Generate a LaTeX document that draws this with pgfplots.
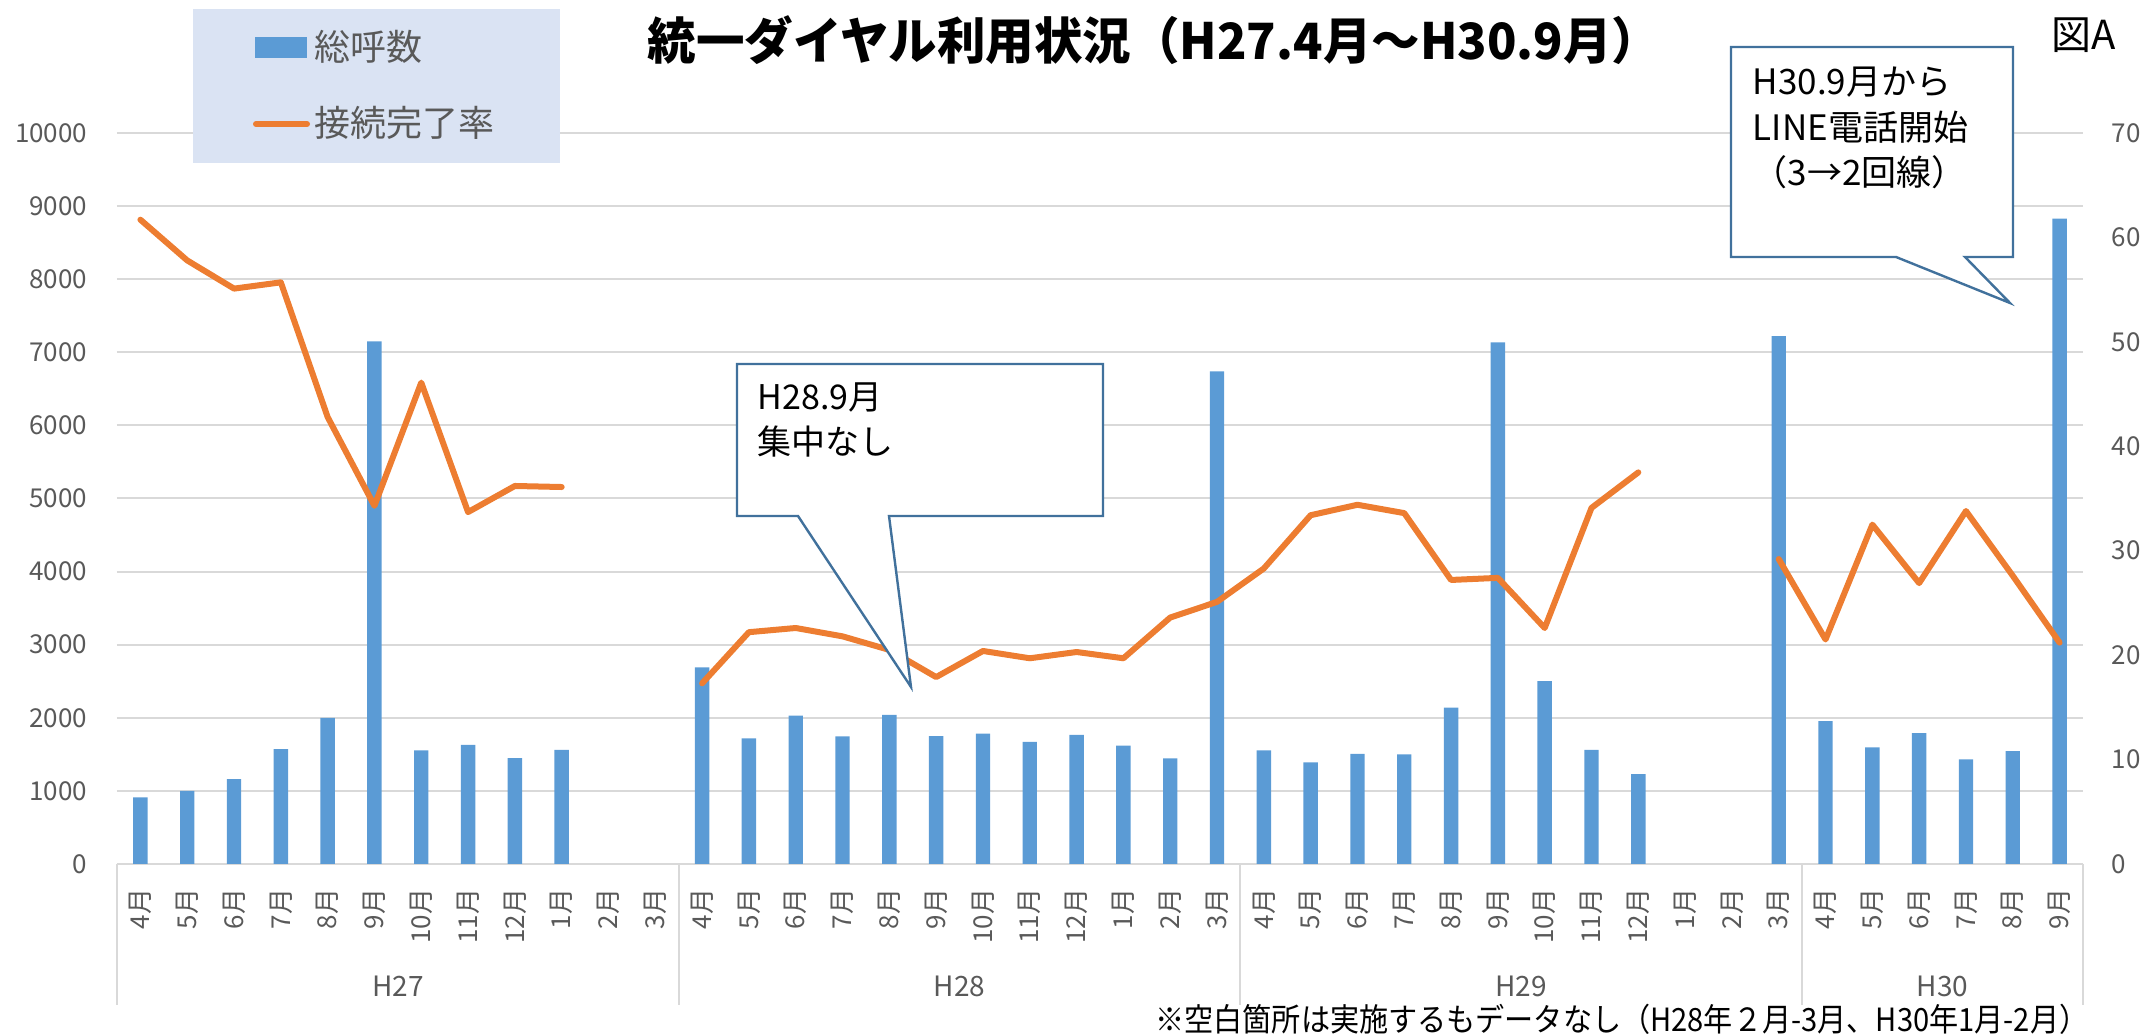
\documentclass[border=0pt]{standalone}
\usepackage{fontspec}
\setmainfont{Noto Sans CJK JP}
\usepackage{pgfplots}
\usepackage{pgfplotstable}
\pgfplotsset{compat=1.18}
\definecolor{barblue}{HTML}{5B9BD5}
\definecolor{lineorange}{HTML}{ED7D31}
\definecolor{gridgray}{HTML}{D9D9D9}
\definecolor{labgray}{HTML}{595959}
\definecolor{legfill}{HTML}{DAE3F3}
\definecolor{callblue}{HTML}{41719C}

\pgfplotstableread{
x y
1 910
2 1000
3 1160
4 1570
5 2000
6 7150
7 1555
8 1630
9 1450
10 1560
13 2690
14 1720
15 2030
16 1745
17 2040
18 1750
19 1785
20 1670
21 1765
22 1620
23 1445
24 6740
25 1555
26 1390
27 1505
28 1500
29 2140
30 7135
31 2500
32 1560
33 1230
36 7220
37 1955
38 1595
39 1790
40 1430
41 1545
42 8830
}\bars

\pgfplotstableread{
x y
1 61.7
2 57.8
3 55.1
4 55.7
5 42.8
6 34.3
7 46.1
8 33.7
9 36.2
10 36.1
11 nan
13 17.3
14 22.2
15 22.6
16 21.8
17 20.5
18 17.9
19 20.4
20 19.7
21 20.3
22 19.7
23 23.6
24 25.1
25 28.3
26 33.4
27 34.4
28 33.6
29 27.2
30 27.4
31 22.6
32 34.1
33 37.5
34 nan
36 29.2
37 21.5
38 32.5
39 26.9
40 33.8
41 27.6
42 21.2
}\rate

\begin{document}
\begin{tikzpicture}
\begin{axis}[
  at={(29.25pt,-216pt)}, anchor=south west,
  width=491.5pt, height=182.75pt, scale only axis,
  xmin=0.5, xmax=42.5, ymin=0, ymax=10000,
  enlargelimits=false,
  ytick={0,1000,...,10000},
  ymajorgrids, grid style={gridgray, line width=0.5pt},
  axis line style={draw=none},
  major tick length=0pt,
  xtick={1,...,42},
  xticklabels={4月,5月,6月,7月,8月,9月,10月,11月,12月,1月,2月,3月,
               4月,5月,6月,7月,8月,9月,10月,11月,12月,1月,2月,3月,
               4月,5月,6月,7月,8月,9月,10月,11月,12月,1月,2月,3月,
               4月,5月,6月,7月,8月,9月},
  tick label style={font=\fontsize{6.5}{7}\selectfont, text=labgray},
  xticklabel style={yshift=-6pt, rotate=90, anchor=east, inner sep=0pt},
  yticklabel style={anchor=east, inner sep=0pt, xshift=-7.25pt},
  /pgf/number format/1000 sep={},
  /pgf/number format/assume math mode=true,
  scaled y ticks=false,
  clip=false,
]
\addplot[ybar, bar width=3.6pt, fill=barblue, draw=none] table[x=x,y=y]{\bars};
\foreach \g in {0.5,12.5,24.5,36.5,42.5}{
  \edef\tmp{\noexpand\draw[gridgray, line width=0.5pt] (axis cs:\g,0) -- ++(0pt,-35.25pt);}\tmp
}
\node[text=labgray, font=\fontsize{7}{8}\selectfont] at ([yshift=-30.5pt]axis cs:6.5,0) {H27};
\node[text=labgray, font=\fontsize{7}{8}\selectfont] at ([yshift=-30.5pt]axis cs:18.5,0) {H28};
\node[text=labgray, font=\fontsize{7}{8}\selectfont] at ([yshift=-30.5pt]axis cs:30.5,0) {H29};
\node[text=labgray, font=\fontsize{7}{8}\selectfont] at ([yshift=-30.5pt]axis cs:39.5,0) {H30};
\end{axis}

\begin{axis}[
  at={(29.25pt,-216pt)}, anchor=south west,
  width=491.5pt, height=182.75pt, scale only axis,
  xmin=0.5, xmax=42.5, ymin=0, ymax=70,
  enlargelimits=false,
  ytick={0,10,...,70},
  axis line style={draw=none},
  major tick length=0pt,
  xtick=\empty,
  yticklabel pos=right,
  tick label style={font=\fontsize{6.5}{7}\selectfont, text=labgray},
  yticklabel style={anchor=west, inner ysep=0pt, inner xsep=7pt},
  /pgf/number format/assume math mode=true,
  unbounded coords=jump,
  clip=false,
]
\addplot[lineorange, line width=1.5pt, line join=round, line cap=round] table[x=x,y=y]{\rate};
\end{axis}

\begin{scope}[x=0.25pt, y=-0.25pt]
% legend
\fill[legfill] (193,9) rectangle (560,163);
\fill[barblue] (255,37) rectangle (307,58);
\draw[lineorange, line width=1.5pt, line cap=round] (256,124) -- (307,124);
\node[anchor=west, inner sep=0pt, text=labgray, font=\fontsize{9}{10}\selectfont] at (314,47) {総呼数};
\node[anchor=west, inner sep=0pt, text=labgray, font=\fontsize{9}{10}\selectfont] at (314,123) {接続完了率};
% title
\node[font=\bfseries\fontsize{12.5}{14}\selectfont, xscale=0.97, inner sep=0pt] at (1154,40) {統一ダイヤル利用状況（H27.4月～H30.9月）};
\node[anchor=east, inner sep=0pt, font=\fontsize{10}{11}\selectfont] at (2117,35) {図A};
% callout 1
\filldraw[fill=white, draw=callblue, line width=0.6pt, line join=miter]
  (737,364) -- (1103,364) -- (1103,516) -- (889,516) -- (911,687) -- (798,516) -- (737,516) -- cycle;
\node[anchor=west, inner sep=0pt, font=\fontsize{8.5}{10}\selectfont] at (757,398) {H28.9月};
\node[anchor=west, inner sep=0pt, font=\fontsize{8.5}{10}\selectfont] at (757,442) {集中なし};
% callout 2
\filldraw[fill=white, draw=callblue, line width=0.6pt, line join=miter]
  (1731,47) -- (2013,47) -- (2013,257) -- (1965,257) -- (2010,303) -- (1896,257) -- (1731,257) -- cycle;
\node[anchor=west, inner sep=0pt, font=\fontsize{8.75}{10}\selectfont] at (1752,82) {H30.9月から};
\node[anchor=west, inner sep=0pt, font=\fontsize{8.75}{10}\selectfont] at (1752,127) {LINE電話開始};
\node[anchor=west, inner sep=0pt, font=\fontsize{8.75}{10}\selectfont] at (1752,172) {（3→2回線）};
% footnote
\node[anchor=east, inner sep=0pt, font=\fontsize{8}{9}\selectfont, xscale=0.91] at (2089,1019) {※空白箇所は実施するもデータなし（H28年２月-3月、H30年1月-2月）};
\end{scope}

\pgfresetboundingbox
\begin{scope}[x=0.25pt, y=-0.25pt]
\path (0,0) rectangle (2142,1035);
\end{scope}
\end{tikzpicture}
\end{document}
